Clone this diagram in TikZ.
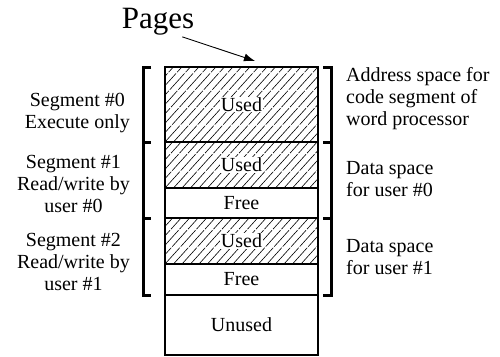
\documentclass[tikz,border=0pt]{standalone}
\usepackage{fontspec}
\setmainfont{Liberation Serif}
\usetikzlibrary{arrows.meta}

% white patch behind a label that sits on hatching
\newcommand\onhatch[1]{{\setlength\fboxsep{0.5pt}\colorbox{white}{#1}}}

\begin{document}
\begin{tikzpicture}[x=1pt,y=-1pt,
  cell/.style={draw,line width=1.2pt,anchor=north west,minimum width=153pt,
    inner sep=0pt,outer sep=0pt,font=\fontsize{20}{23}\selectfont},
  hatch/.style={path picture={\foreach \k in {-9,...,19}
    \draw[line width=0.6pt,dash pattern=on 22pt off 1.5pt] ([xshift=\k*8.5pt]path picture bounding box.south west) -- ++(76pt,84pt);}},
  lbl/.style={font=\fontsize{20}{22}\selectfont,inner sep=0pt},
  brack/.style={line width=3pt}]
\useasboundingbox (0,0) rectangle (500,356);
% the page column
\node[cell,hatch,minimum height=75pt] (code) at (165,67) {\onhatch{Used}};
\node[cell,hatch,minimum height=46pt] (used0) at (code.south west) {\onhatch{Used}};
\node[cell,minimum height=30pt] (free0) at (used0.south west) {Free};
\node[cell,hatch,minimum height=46pt] (used1) at (free0.south west) {\onhatch{Used}};
\node[cell,minimum height=31pt] (free1) at (used1.south west) {Free};
\node[cell,minimum height=60pt] (unused) at (free1.south west) {Unused};
% brackets
\draw[brack] ([xshift=-14pt]code.north west) -- ++(-8pt,0pt) |- ([xshift=-14pt]free1.south west);
\foreach \c in {code,free0}
  \draw[brack] ([xshift=-22pt]\c.south west) -- ++(8pt,0pt);
\draw[brack] ([xshift=5pt]code.north east) -- ++(8pt,0pt) |- ([xshift=5pt]free1.south east);
\foreach \c in {code,free0}
  \draw[brack] ([xshift=13pt]\c.south east) -- ++(-8pt,0pt);
% segment labels
\node[lbl,anchor=east,align=center] (seg0) at (130,113.5) {Segment \#0\\Execute only};
\node[lbl,anchor=east,align=center] (seg1) at (130,183.5) {Segment \#1\\Read/write by\\user \#0};
\node[lbl,anchor=east,align=center] (seg2) at (130,261.5) {Segment \#2\\Read/write by\\user \#1};
\node[lbl,anchor=west,align=left] (codesp) at (346,99) {Address space for\\code segment of\\word processor};
\node[lbl,anchor=west,align=left] (data0) at (346,179.5) {Data space\\for user \#0};
\node[lbl,anchor=west,align=left] (data1) at (346,257.5) {Data space\\for user \#1};
% title
\node[font=\fontsize{31}{36}\selectfont,inner sep=0pt,anchor=base] (pages) at (158,28) {Pages};
\draw[line width=0.9pt,-{Latex[length=11pt,width=8pt]}]
  ([xshift=-12pt,yshift=-2pt]pages.south east) -- ([xshift=13.5pt,yshift=6pt]code.north);
\end{tikzpicture}
\end{document}
